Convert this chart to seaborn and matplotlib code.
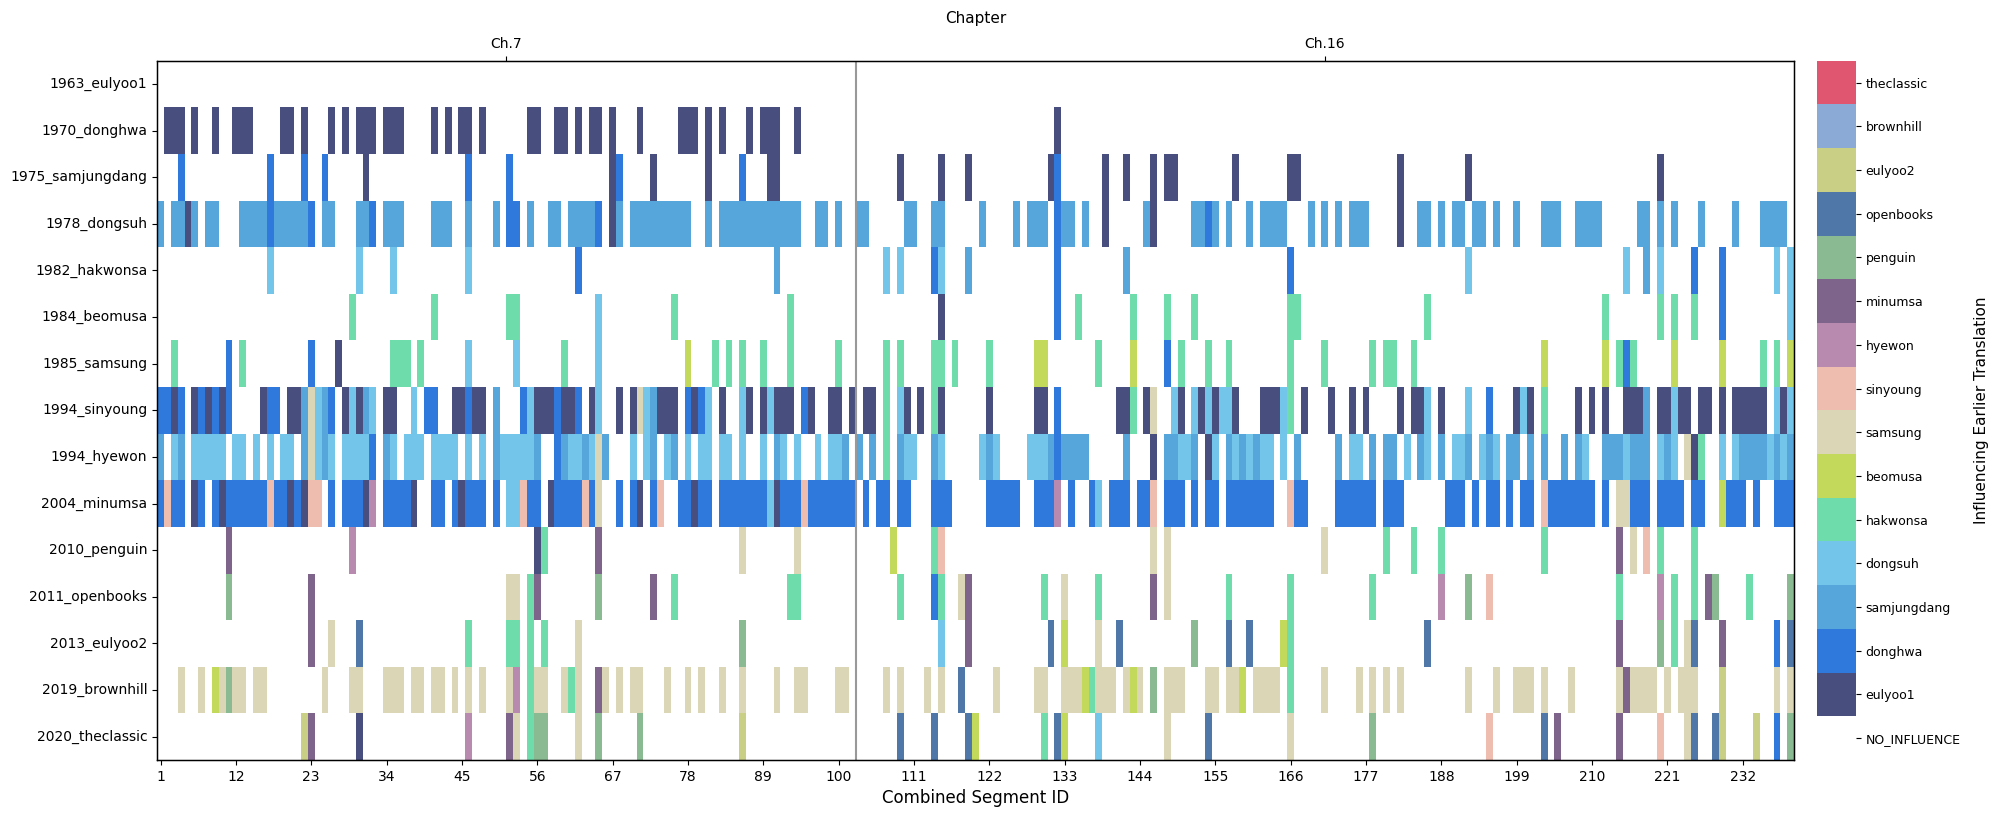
import numpy as np
import pandas as pd
import matplotlib
matplotlib.use("Agg")
import matplotlib.pyplot as plt
import seaborn as sns
from matplotlib.colors import ListedColormap

translations = ["1963_eulyoo1", "1970_donghwa", "1975_samjungdang", "1978_dongsuh",
                "1982_hakwonsa", "1984_beomusa", "1985_samsung", "1994_sinyoung",
                "1994_hyewon", "2004_minumsa", "2010_penguin", "2011_openbooks",
                "2013_eulyoo2", "2019_brownhill", "2020_theclassic"]
categories = ["NO_INFLUENCE", "eulyoo1", "donghwa", "samjungdang", "dongsuh", "hakwonsa",
              "beomusa", "samsung", "sinyoung", "hyewon", "minumsa", "penguin",
              "openbooks", "eulyoo2", "brownhill", "theclassic"]
cat_colors = ["#ffffff", "#484f7e", "#2f79dc", "#56a5db", "#73c6e9", "#6edcab",
              "#c3d95c", "#dbd7b6", "#efbcb0", "#b98ab0", "#7e648b", "#8aba91",
              "#4f77a8", "#c9cf84", "#8babd6", "#e0556f"]
codes = {"A": "eulyoo1", "D": "donghwa", "S": "samjungdang", "d": "dongsuh", "h": "hakwonsa",
         "b": "beomusa", "s": "samsung", "y": "sinyoung", "w": "hyewon", "m": "minumsa",
         "p": "penguin", "o": "openbooks", "e": "eulyoo2", "r": "brownhill", "t": "theclassic"}
n_segments = 239
chapter_boundary = 102
chapter_names = ["Ch.7", "Ch.16"]

# influence runs per translation: "start-endCODE" (segment IDs, 1-based)
r_eulyoo1 = ""
r_donghwa = ("2-4A 6A 9A 12-14A 19-20A 22A 26A 28A 30-32A 34-36A 41A 43A 45-46A 48A 55-56A "
             "59-60A 62A 64-65A 67A 71A 77-79A 81A 83A 87A 89-91A 94A 132A")
r_samjungdang = ("4D 17D 22D 25D 31A 46D 52D 67A 68D 73A 81A 86D 90-91A 109A 115A 119A 131A 132D "
                 "139A 142A 146A 148-149A 158A 166-167A 182A 192A 220A")
r_dongsuh = ("1S 3-4S 5A 6S 8-9S 13-16S 17D 18-22S 23D 25-26S 30-31S 32D 34-36S 41-43S 46S 50S "
             "52-53D 55S 58-59S 61-64S 65D 67A 68S 70-78S 81S 83-94S 97-98S 100S 103-104S 110-111S "
             "114-115S 121S 126S 128-130S 132D 133-134S 136S 139A 145S 146A 152-153S 154D 155S 157S "
             "160S 162-165S 169S 171S 173S 175-177S 182A 185-186S 188S 190-191S 193-194S 196S 199S "
             "203-205S 208-211S 217-218S 220S 222S 226S 231S 235-238S")
r_hakwonsa = ("17d 30d 35d 46d 62D 91S 107d 109d 114D 115d 119S 132D 142S 166D 192d 215d 218S "
              "220d 225D 229D 237d 239d")
r_beomusa = ("29h 41h 52-53h 65d 76h 93h 115A 132D 135h 143h 148h 152h 166-167h 186h 212h 220h "
             "222h 225h 229D 239d")
r_samsung = ("3h 11D 13h 23D 27A 35-37h 39h 46d 53d 60h 65d 78b 82h 84h 86h 89h 93h 100h 107h 109h "
             "114-115h 117h 122h 129-130b 138h 143b 148D 150h 154h 157h 166h 171h 178h 180-181h "
             "184h 203b 212b 214h 215D 216h 222b 229b 235h 237h 239b")
r_sinyoung = ("1-2D 3A 4D 6A 7D 8A 9D 10A 11D 16A 17-18D 20-21A 22S 23s 24d 25S 26D 28A 29d 30A 31S "
              "32d 34-35A 38d 40D 41D 44-45A 46D 47-48A 50S 54D 55d 56-58A 59D 60-61A 62D 64A 65d "
              "68A 70A 71s 72d 73S 74-76A 78D 79A 80D 81d 83A 86d 87A 89A 90d 91-93A 95D 96A "
              "99-100A 102A 104-105A 107h 109d 110A 112A 114h 115A 122A 129-130A 132D 141-142A 143h "
              "145A 146s 149d 150A 152d 153A 154d 155A 156-157d 158A 162-164A 165d 166h 168A 172A "
              "175A 177A 182A 184-185A 186d 188A 192d 195D 199A 200d 201A 203h 208A 210A 212A "
              "215-217A 218S 220-221A 222d 223-224A 226-227A 229A 231-235A 237d 238A 239d")
r_hyewon = ("1S 3d 4S 6-10d 12-13d 15d 17d 19-20d 22S 23s 24d 25S 26d 28-31d 32D 34S 35d 37-39d "
            "41-44d 46d 48d 50S 51-55d 56S 59D 60S 61-62d 63S 64d 65s 66S 70d 72d 73S 75d 76S 78d "
            "80d 81d 83-84d 86d 89d 91S 92d 94d 97d 99-100d 101S 103S 105S 107h 109S 110-111d 114S "
            "115d 121d 122S 123d 128-130d 131S 132D 133-136S 142S 146A 148-149S 150-151d 152S 154A "
            "155d 157S 158d 159S 160d 161S 162-163d 165d 167S 173S 175-176d 178S 180-181S 183d 185S "
            "186d 188S 190-191d 192S 194d 195S 196d 198-199S 201S 203S 206S 208S 209d 212-214S "
            "215d 216-218S 220d 221S 222d 224s 225A 226h 229d 231d 232-235S 236d 237S 238d 239S")
r_minumsa = ("1D 2y 3-4D 6A 7D 9D 10A 11-16D 17y 18-19D 20A 21D 22A 23-24y 26D 28-30D 31A 32w "
             "34-37D 38A 41-42D 44D 45A 46-48D 50D 52-53d 54y 55-56D 58A 59-62D 63y 64D 65s 68D "
             "70D 71A 73D 74y 77-78D 79A 80-81D 83-89D 90d 91A 92-94D 95y 96-102D 104D 106-107D "
             "109-110D 114-116D 122-126D 129-131D 132w 134D 137D 138d 140-142D 144-145D 146y "
             "148-150D 152D 154-155D 157-163D 166y 167-168D 173-178D 180-182D 189-191D 193D "
             "195-196D 198D 200-201D 203y 204-210D 212D 214-215s 216-218D 220-223D 225-226D 229b "
             "230-232D 234D 237-239D")
r_penguin = ("11m 29w 56A 57h 65m 86s 94s 108b 114h 115y 146s 148s 171s 180h 184h 188h 203h 214m "
             "216s 218y 220h 225h")
r_openbooks = ("11p 23m 52-53s 55h 56m 65p 73m 76h 93-94h 109h 114D 115h 118s 119m 130h 133s 138h "
               "146m 148s 157h 166h 178h 188w 192p 195y 214h 220w 222h 225h 227m 228p 233h 239p")
r_eulyoo2 = ("23m 26s 30o 46h 52-53h 55h 57h 62s 86p 115d 119m 131o 133b 138s 141o 152p 157o 160o "
             "165b 166h 186o 214m 220p 222h 224s 225o 229m 237D 239o")
r_brownhill = ("4s 7s 9b 10s 11p 12-13s 15-16s 25s 29-30s 34-36s 38-39s 41-42s 44s 46s 48s 52s 53w "
               "55h 56-57s 60s 61h 62s 65m 66s 68s 70-71s 75s 78s 80s 83s 86s 91s 94-95s 100-101s "
               "107s 109s 113s 115s 118o 123s 129-130s 133-135s 136b 137h 138-140s 142s 143b 144s "
               "146p 148-150s 154-155s 157-158s 159b 161-164s 166h 171s 176s 178s 180s 182s 192s "
               "196s 199-201s 203s 207s 214s 215m 216-219s 221s 223-225s 229e 237s 239s")
r_theclassic = ("22e 23m 30A 46w 52m 53s 55h 56-57p 62s 65p 71p 86e 109o 114o 119o 120b 130h 132o "
                "133b 138d 148s 154o 166s 178p 195y 203o 205m 214m 220y 224s 225o 228o 229e 234e "
                "237D 239p")
runs = [r_eulyoo1, r_donghwa, r_samjungdang, r_dongsuh, r_hakwonsa, r_beomusa, r_samsung,
        r_sinyoung, r_hyewon, r_minumsa, r_penguin, r_openbooks, r_eulyoo2, r_brownhill,
        r_theclassic]

mat = np.zeros((len(translations), n_segments), dtype=int)
for i, spec in enumerate(runs):
    for tok in spec.split():
        code, rng = tok[-1], tok[:-1]
        a, b = (rng.split("-") + [rng])[:2] if "-" in rng else (rng, rng)
        mat[i, int(a) - 1:int(b)] = categories.index(codes[code])

df = pd.DataFrame(mat, index=translations, columns=np.arange(1, n_segments + 1))

fig = plt.figure(figsize=(19.89, 8.15), dpi=100)
ax = fig.add_axes([0.079, 0.0675, 0.823, 0.858])
cax = fig.add_axes([0.9135, 0.0675, 0.0195, 0.858])
cmap = ListedColormap(cat_colors)
sns.heatmap(df, ax=ax, cmap=cmap, vmin=-0.5, vmax=len(categories) - 0.5, cbar_ax=cax,
            xticklabels=False, yticklabels=True)
for s in ax.spines.values():
    s.set_visible(True)
    s.set_color("black")
    s.set_linewidth(1)
xt = np.arange(0, n_segments, 11)
ax.set_xticks(xt + 0.5)
ax.set_xticklabels([str(v + 1) for v in xt], fontsize=10, rotation=0)
ax.set_yticklabels(translations, fontsize=10, rotation=0)
ax.set_xlabel("Combined Segment ID", fontsize=12)
ax.set_ylabel("")
ax.axvline(chapter_boundary, color="#999999", lw=1.5)

top = ax.twiny()
top.set_xlim(ax.get_xlim())
top.set_xticks([chapter_boundary / 2, (chapter_boundary + n_segments) / 2])
top.set_xticklabels(chapter_names, fontsize=10)
top.set_xlabel("Chapter", fontsize=11, labelpad=10)

cb = ax.collections[0].colorbar
cb.set_ticks(np.arange(len(categories)))
cb.set_ticklabels(categories, fontsize=9)
cb.outline.set_edgecolor("black")
cb.set_label("Influencing Earlier Translation", fontsize=11, labelpad=10)

fig.savefig("out.png", dpi=100)
